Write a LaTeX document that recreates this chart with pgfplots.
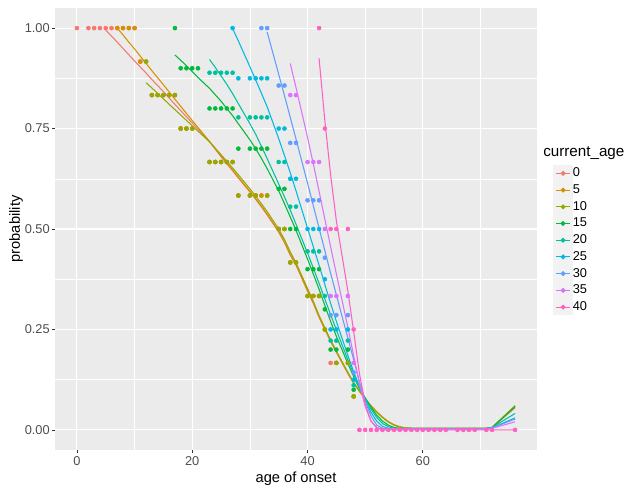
\documentclass[border=0pt]{standalone}
\usepackage{fontspec}
\setmainfont{Liberation Sans}
\usepackage{pgfplots}
\pgfplotsset{compat=1.18}
\definecolor{c0}{HTML}{F8766D}
\definecolor{c5}{HTML}{D39200}
\definecolor{c10}{HTML}{93AA00}
\definecolor{c15}{HTML}{00BA38}
\definecolor{c20}{HTML}{00C19F}
\definecolor{c25}{HTML}{00B9E3}
\definecolor{c30}{HTML}{619CFF}
\definecolor{c35}{HTML}{DB72FB}
\definecolor{c40}{HTML}{FF61C3}
\definecolor{panelbg}{HTML}{EBEBEB}
\definecolor{keybg}{HTML}{F2F2F2}
\definecolor{tickcol}{HTML}{4D4D4D}
\definecolor{tickmark}{HTML}{333333}
\begin{document}
\begin{tikzpicture}
\useasboundingbox (0,0) rectangle (471pt,366.75pt);
\begin{axis}[
  at={(41.25pt,29.25pt)}, anchor=south west,
  width=361.5pt, height=331.5pt, scale only axis,
  xmin=-3.8, xmax=79.8, ymin=-0.05, ymax=1.05,
  axis background/.style={fill=panelbg},
  axis line style={draw=none},
  xtick={0,20,40,60}, xticklabels={0,20,40,60},
  ytick={0,0.25,0.5,0.75,1}, yticklabels={0.00,0.25,0.50,0.75,1.00},
  minor xtick={10,30,50,70}, minor ytick={0.125,0.375,0.625,0.875},
  grid=both,
  major grid style={white, line width=0.8pt},
  minor grid style={white, line width=0.4pt},
  tick align=outside, xtick pos=bottom, ytick pos=left,
  major tick length=2.25pt, minor tick length=0pt,
  major tick style={tickmark, line width=0.6pt},
  /pgf/number format/assume math mode=true,
  ticklabel style={font=\fontsize{9.6}{11}\selectfont, color=tickcol, inner sep=0pt},
  xticklabel shift=2.75pt, yticklabel shift=1.5pt,
  xlabel={age of onset}, ylabel={probability},
  label style={font=\fontsize{11}{13}\selectfont},
  xlabel style={at={(axis description cs:0.5,-0.0656)}, anchor=center},
  ylabel style={at={(axis description cs:-0.0809,0.5)}, anchor=center},
  legend style={at={(axis description cs:1.0339,0.6448)}, anchor=north west,
    draw=none, fill=none, inner sep=0pt, outer sep=0pt,
    font=\fontsize{9.6}{11}\selectfont, row sep=0pt, nodes={inner sep=0pt},
    /tikz/every even column/.append style={column sep=3.75pt}},
  legend cell align=left,
  legend image code/.code={
    \fill[keybg] (0pt,-5.87pt) rectangle (13.8pt,5.87pt);
    \draw[#1, line width=0.8pt] (1.4pt,0pt) -- (12.4pt,0pt);
    \fill[#1] (6.9pt,0pt) circle (1.4pt);
  },
  pts/.style={only marks, mark=*, mark size=1.5pt, color=#1, forget plot},
  ln/.style={color=#1, line width=0.8pt, mark=none},
]
% ---- points ----
\addplot[pts=c0] coordinates {(0,1)(2,1)(3,1)(4,1)(5,1)(6,1)(7,1)(8,1)(9,1)(10,1)(11,0.9167)
 (13,0.8333)(14,0.8333)(15,0.8333)(16,0.8333)(17,0.8333)(18,0.75)(19,0.75)(20,0.75)
 (23,0.6667)(24,0.6667)(25,0.6667)(26,0.6667)(27,0.6667)(28,0.5833)(30,0.5833)(31,0.5833)(32,0.5833)(33,0.5833)
 (35,0.5)(36,0.5)(37,0.4167)(38,0.4167)(40,0.3333)(41,0.3333)(42,0.3333)(43,0.25)(44,0.1667)(45,0.1667)(47,0.1667)(48,0.0833)};
\addplot[pts=c5] coordinates {(7,1)(8,1)(9,1)(10,1)(11,0.9167)(12,0.9167)
 (13,0.8333)(14,0.8333)(15,0.8333)(16,0.8333)(17,0.8333)(18,0.75)(19,0.75)(20,0.75)
 (23,0.6667)(24,0.6667)(25,0.6667)(26,0.6667)(27,0.6667)(28,0.5833)(30,0.5833)(31,0.5833)(32,0.5833)(33,0.5833)
 (35,0.5)(36,0.5)(37,0.4167)(38,0.4167)(40,0.3333)(41,0.3333)(42,0.3333)(43,0.25)(45,0.1667)(47,0.1667)(48,0.0833)};
\addplot[pts=c10] coordinates {(12,0.9167)
 (13,0.8333)(14,0.8333)(15,0.8333)(16,0.8333)(17,0.8333)(18,0.75)(19,0.75)(20,0.75)
 (23,0.6667)(24,0.6667)(25,0.6667)(26,0.6667)(27,0.6667)(28,0.5833)(30,0.5833)(31,0.5833)(33,0.5833)
 (35,0.5)(36,0.5)(37,0.4167)(38,0.4167)(40,0.3333)(41,0.3333)(42,0.3333)(43,0.25)(45,0.1667)(47,0.1667)(48,0.0833)};
\addplot[pts=c15] coordinates {(17,1)(18,0.9)(19,0.9)(20,0.9)(21,0.9)
 (23,0.8)(24,0.8)(25,0.8)(26,0.8)(27,0.8)(28,0.7)(30,0.7)(31,0.7)(32,0.7)(33,0.7)
 (35,0.6)(36,0.6)(37,0.5)(38,0.5)(40,0.4)(41,0.4)(42,0.4)(43,0.3)(44,0.2)(45,0.2)(47,0.2)(48,0.1)};
\addplot[pts=c20] coordinates {(23,0.8889)(24,0.8889)(25,0.8889)(26,0.8889)(27,0.8889)
 (28,0.7778)(30,0.7778)(31,0.7778)(32,0.7778)(33,0.7778)(35,0.6667)(36,0.6667)(37,0.5556)(38,0.5556)
 (40,0.4444)(41,0.4444)(42,0.4444)(43,0.3333)(44,0.2222)(45,0.2222)(47,0.2222)(48,0.1111)};
\addplot[pts=c25] coordinates {(27,1)(28,0.875)(30,0.875)(31,0.875)(32,0.875)(33,0.875)
 (35,0.75)(36,0.75)(37,0.625)(38,0.625)(40,0.5)(41,0.5)(42,0.5)(43,0.375)(44,0.25)(45,0.25)(47,0.25)(48,0.125)};
\addplot[pts=c30] coordinates {(32,1)(33,1)(35,0.8571)(36,0.8571)(37,0.7143)(38,0.7143)
 (40,0.5714)(41,0.5714)(42,0.5714)(43,0.4286)(44,0.2857)(45,0.2857)(47,0.2857)(48,0.1429)};
\addplot[pts=c35] coordinates {(37,0.8333)(38,0.8333)(40,0.6667)(41,0.6667)(42,0.6667)
 (43,0.5)(44,0.3333)(45,0.3333)(47,0.3333)(48,0.1667)};
\addplot[pts=c40] coordinates {(42,1)(43,0.75)(44,0.5)(45,0.5)(47,0.5)(48,0.25)
 (49,0)(50,0)(51,0)(52,0)(53,0)(54,0)(55,0)(56,0)(57,0)(58,0)(59,0)(60,0)(61,0)(62,0)(63,0)(64,0)
 (66,0)(67,0)(68,0)(69,0)(71,0)(72,0)(76,0)};
% ---- fitted lines ----
\addplot[ln=c0] coordinates {(5,0.995)(7,0.965)(10,0.918)(11,0.903)(12,0.888)(13,0.872)(15,0.842)(17,0.81)(20,0.764)(23,0.717)(25,0.68)(27,0.645)(28,0.627)(30,0.592)(31,0.574)(32,0.555)(33,0.535)(35,0.492)(36,0.466)(37,0.435)(38,0.41)(40,0.345)(41,0.315)(42,0.28)(43,0.25)(44,0.22)(45,0.193)(47,0.14)(48,0.116)(49,0.096)(50,0.077)(51,0.06)(52,0.045)(53,0.032)(54,0.021)(55,0.013)(56,0.008)(57,0.005)(58,0.004)(64,0.004)(71,0.004)(72,0.006)(76,0.055)};
\addlegendentry{0}
\addplot[ln=c5] coordinates {(7,1.0)(8,0.983)(9,0.965)(10,0.948)(11,0.93)(12,0.912)(13,0.894)(15,0.859)(17,0.823)(20,0.77)(23,0.718)(25,0.682)(27,0.647)(28,0.629)(30,0.594)(31,0.576)(32,0.557)(33,0.537)(35,0.494)(36,0.468)(37,0.437)(38,0.412)(40,0.347)(41,0.317)(42,0.282)(43,0.252)(44,0.222)(45,0.195)(47,0.142)(48,0.117)(49,0.096)(50,0.077)(51,0.059)(52,0.044)(53,0.031)(54,0.02)(55,0.012)(56,0.007)(57,0.005)(58,0.004)(71,0.004)(72,0.006)(76,0.06)};
\addlegendentry{5}
\addplot[ln=c10] coordinates {(12,0.864)(13,0.851)(15,0.824)(17,0.797)(20,0.757)(23,0.717)(25,0.685)(27,0.652)(28,0.635)(30,0.6)(31,0.582)(32,0.563)(33,0.543)(35,0.5)(36,0.474)(37,0.443)(38,0.416)(40,0.352)(41,0.32)(42,0.285)(43,0.254)(44,0.224)(45,0.196)(47,0.143)(48,0.118)(49,0.097)(50,0.078)(51,0.06)(52,0.045)(53,0.031)(54,0.02)(55,0.012)(56,0.007)(57,0.005)(58,0.004)(71,0.004)(72,0.006)(76,0.06)};
\addlegendentry{10}
\addplot[ln=c15] coordinates {(17,0.933)(18,0.92)(19,0.906)(20,0.892)(21,0.877)(23,0.85)(24,0.834)(25,0.818)(26,0.8)(27,0.782)(28,0.762)(30,0.722)(31,0.7)(32,0.676)(33,0.65)(35,0.595)(36,0.563)(37,0.53)(38,0.497)(40,0.425)(41,0.388)(42,0.35)(43,0.31)(44,0.27)(45,0.233)(47,0.165)(48,0.133)(49,0.103)(50,0.08)(51,0.056)(52,0.037)(53,0.022)(54,0.012)(55,0.006)(56,0.004)(71,0.004)(72,0.006)(76,0.058)};
\addlegendentry{15}
\addplot[ln=c20] coordinates {(23,0.922)(24,0.902)(25,0.881)(26,0.86)(27,0.837)(28,0.812)(30,0.762)(31,0.736)(32,0.706)(33,0.675)(35,0.612)(36,0.58)(37,0.547)(38,0.512)(40,0.44)(41,0.403)(42,0.365)(43,0.326)(44,0.287)(45,0.249)(47,0.174)(48,0.14)(49,0.105)(50,0.077)(51,0.052)(52,0.031)(53,0.016)(54,0.008)(55,0.004)(71,0.004)(72,0.006)(76,0.041)};
\addlegendentry{20}
\addplot[ln=c25] coordinates {(27,0.999)(28,0.968)(30,0.904)(31,0.871)(32,0.838)(33,0.804)(35,0.725)(36,0.683)(37,0.64)(38,0.595)(40,0.502)(41,0.456)(42,0.41)(43,0.362)(44,0.315)(45,0.27)(47,0.185)(48,0.145)(49,0.108)(50,0.072)(51,0.044)(52,0.022)(53,0.009)(54,0.004)(55,0.003)(71,0.003)(72,0.005)(76,0.03)};
\addlegendentry{25}
\addplot[ln=c30] coordinates {(33,0.99)(35,0.885)(36,0.832)(37,0.778)(38,0.724)(40,0.614)(41,0.558)(42,0.502)(43,0.446)(44,0.39)(45,0.336)(47,0.228)(48,0.175)(49,0.12)(50,0.072)(51,0.035)(52,0.012)(53,0.004)(54,0.003)(71,0.003)(72,0.005)(76,0.027)};
\addlegendentry{30}
\addplot[ln=c35] coordinates {(37,0.912)(38,0.852)(40,0.728)(41,0.662)(42,0.594)(43,0.525)(44,0.456)(45,0.388)(47,0.255)(48,0.185)(49,0.115)(50,0.058)(51,0.022)(52,0.006)(53,0.002)(71,0.002)(72,0.004)(76,0.02)};
\addlegendentry{35}
\addplot[ln=c40] coordinates {(42,0.925)(43,0.77)(44,0.635)(45,0.52)(47,0.345)(48,0.245)(49,0.14)(50,0.065)(51,0.022)(52,0.005)(53,0)(60,0)(76,0)};
\addlegendentry{40}
\end{axis}
\node[anchor=west, font=\fontsize{11.4}{13}\selectfont, inner sep=0pt] at (407.25pt,252pt) {current\_age};
\end{tikzpicture}
\end{document}
